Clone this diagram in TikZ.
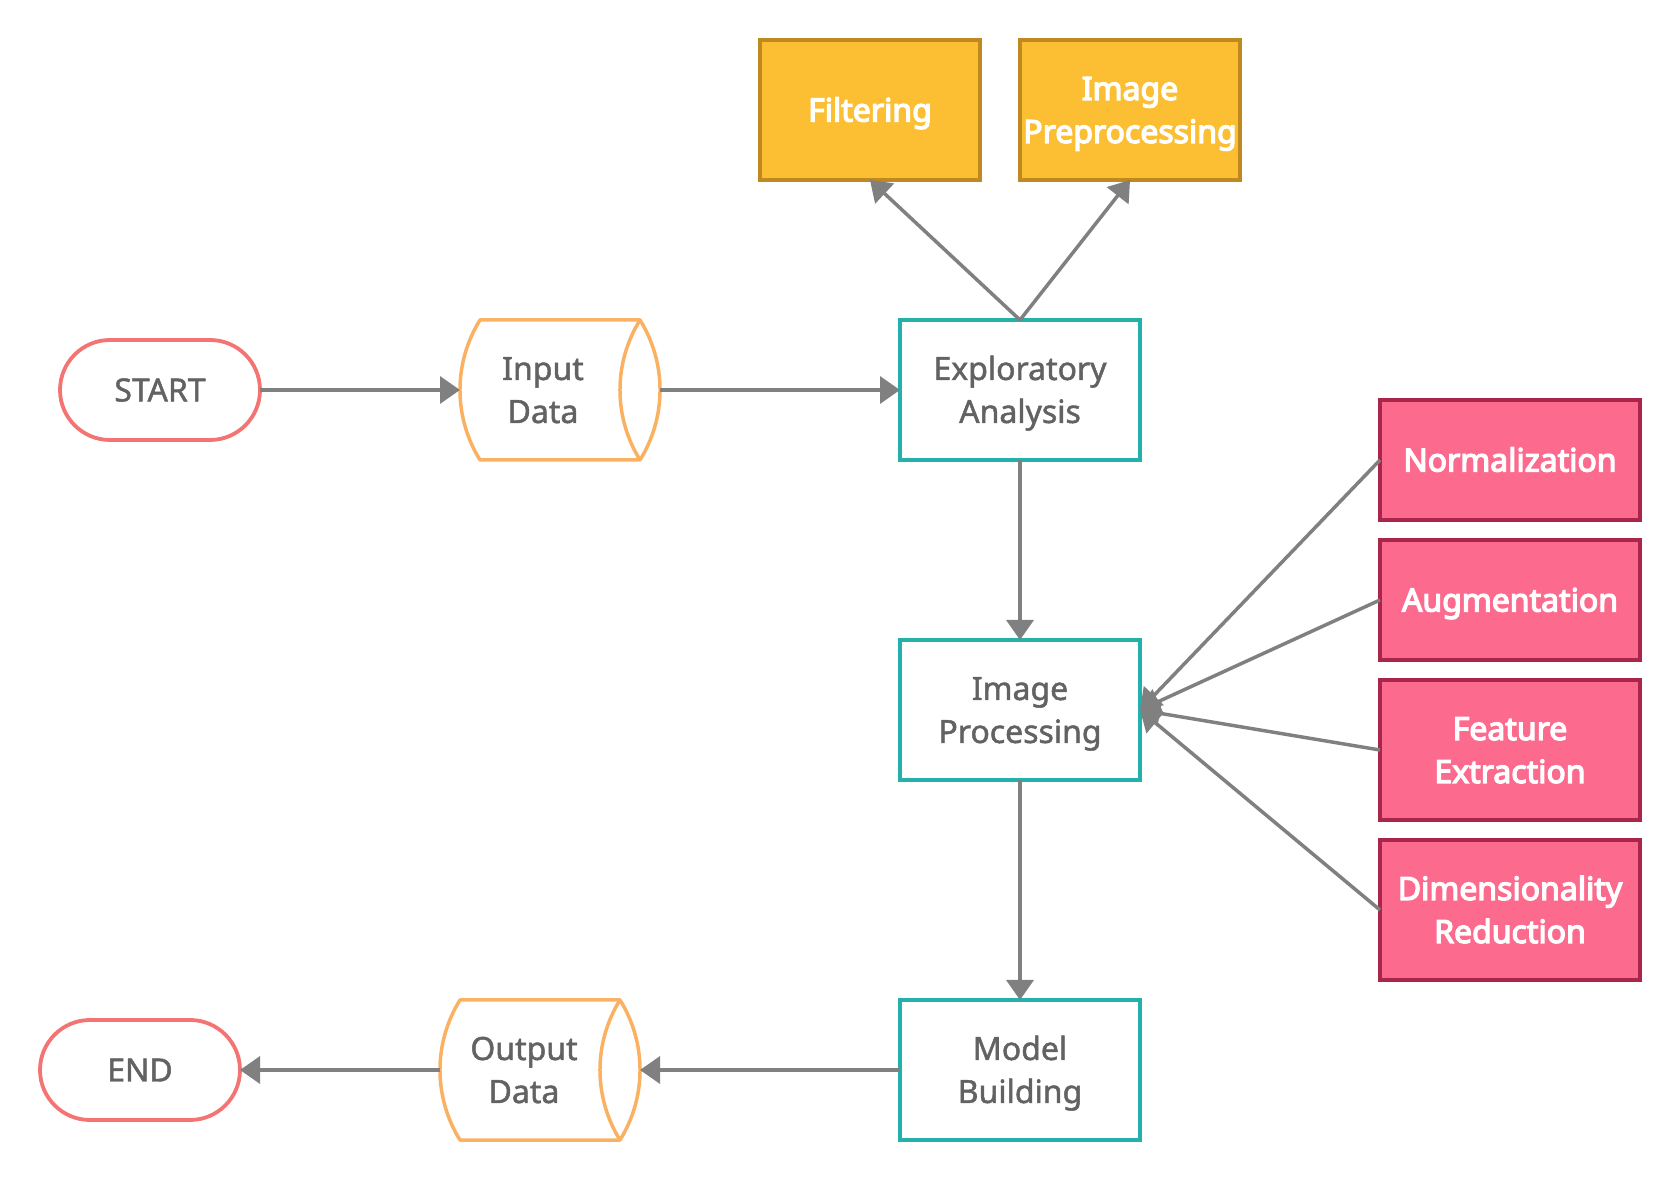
\documentclass[tikz,border=0pt]{standalone}
\usepackage{fontspec}
\setmainfont{Noto Sans}
\newfontfamily\graytextfont{Noto Sans}[FakeBold=1.5]
\newfontfamily\whitetextfont{Noto Sans}[FakeBold=4]
\usetikzlibrary{arrows.meta,calc}

\definecolor{termred}{HTML}{F47474}
\definecolor{dataorange}{HTML}{FBB162}
\definecolor{procteal}{HTML}{24B1AB}
\definecolor{yellowfill}{HTML}{FCBF33}
\definecolor{yellowline}{HTML}{BF891F}
\definecolor{pinkfill}{HTML}{FC6A8D}
\definecolor{pinkline}{HTML}{A92549}
\definecolor{linkgray}{HTML}{808080}
\definecolor{labelgray}{HTML}{626262}

% centred lines of text whose cap middles sit on the node centre
\newcommand{\lines}[1]{\raisebox{0pt}[\dimexpr\height+5.8pt\relax][\depth]{\begin{tabular}[t]{@{}c@{}}#1\end{tabular}}}

% curved "stored data" outline around a node
\newcommand{\datashape}[1]{%
  \draw[dataline]
    ($(#1.north west)+(20,0)$) -- ($(#1.north east)+(-20,0)$)
    .. controls ($(#1.north east)+(6.7,-43)$) and ($(#1.south east)+(6.7,43)$) .. ($(#1.south east)+(-20,0)$)
    -- ($(#1.south west)+(20,0)$)
    .. controls ($(#1.south west)+(-6.7,43)$) and ($(#1.north west)+(-6.7,-43)$) .. cycle;
  \draw[dataline]
    ($(#1.north east)+(-20,0)$)
    .. controls ($(#1.north east)+(-46.7,-43)$) and ($(#1.south east)+(-46.7,43)$) .. ($(#1.south east)+(-20,0)$);
}

\begin{document}
\begin{tikzpicture}[x=1pt,y=1pt,
  every node/.style={font=\fontsize{32}{43}\selectfont\graytextfont, outer sep=0pt, inner sep=0pt},
  terminal/.style={draw=termred, line width=3.8pt, rounded corners=50pt, minimum width=200pt, minimum height=100pt, text=labelgray},
  datanode/.style={minimum width=200pt, minimum height=140pt},
  datalabel/.style={text=labelgray},
  dataline/.style={draw=dataorange, line width=3.5pt, line join=round},
  process/.style={draw=procteal, line width=3.5pt, fill=white, minimum width=240pt, minimum height=140pt, text=labelgray},
  yellowbox/.style={draw=yellowline, fill=yellowfill, line width=3.5pt, minimum width=220pt, minimum height=140pt, text=white, font=\fontsize{32}{43}\selectfont\whitetextfont},
  pinkbox/.style={draw=pinkline, fill=pinkfill, line width=3.5pt, minimum width=260pt, text=white, font=\fontsize{32}{43}\selectfont\whitetextfont},
  link/.style={draw=linkgray, line width=3.5pt, -{Triangle[length=20pt,width=27pt]}}
]
\useasboundingbox (0,0) rectangle (1680,1180);

% main flow
\node[terminal] (start) at (160,790) {\lines{START}};
\node[datanode] (indata) at (560,790) {};
\datashape{indata}
\node[datalabel] (indatatext) at ($(indata)+(-17,0)$) {\lines{Input\\Data}};
\node[process] (explore) at (1020,790) {\lines{Exploratory\\Analysis}};
\node[process] (imgproc) at (1020,470) {\lines{Image\\Processing}};
\node[process] (model) at (1020,110) {\lines{Model\\Building}};
\node[datanode] (outdata) at (540,110) {};
\datashape{outdata}
\node[datalabel] (outdatatext) at ($(outdata)+(-16,0)$) {\lines{Output\\Data}};
\node[terminal] (endn) at (140,110) {\lines{END}};

% exploratory analysis branches
\node[yellowbox] (filter) at (870,1070) {\lines{Filtering}};
\node[yellowbox] (imgpre) at (1130,1070) {\lines{Image\\Preprocessing}};

% image processing inputs
\node[pinkbox, minimum height=120pt] (norm) at (1510,720) {\lines{Normalization}};
\node[pinkbox, minimum height=120pt] (aug) at (1510,580) {\lines{Augmentation}};
\node[pinkbox, minimum height=140pt] (feat) at (1510,430) {\lines{Feature\\Extraction}};
\node[pinkbox, minimum height=140pt] (dim) at (1510,270) {\lines{Dimensionality\\Reduction}};

% connectors
\draw[link] (start.east) -- (indata.west);
\draw[link] (indata.east) -- (explore.west);
\draw[link] (explore.north) -- (filter.south);
\draw[link] (explore.north) -- (imgpre.south);
\draw[link] (explore.south) -- (imgproc.north);
\draw[link] (norm.west) -- (imgproc.east);
\draw[link] (aug.west) -- (imgproc.east);
\draw[link] (feat.west) -- (imgproc.east);
\draw[link] (dim.west) -- (imgproc.east);
\draw[link] (imgproc.south) -- (model.north);
\draw[link] (model.west) -- (outdata.east);
\draw[link] (outdata.west) -- (endn.east);
\end{tikzpicture}
\end{document}
